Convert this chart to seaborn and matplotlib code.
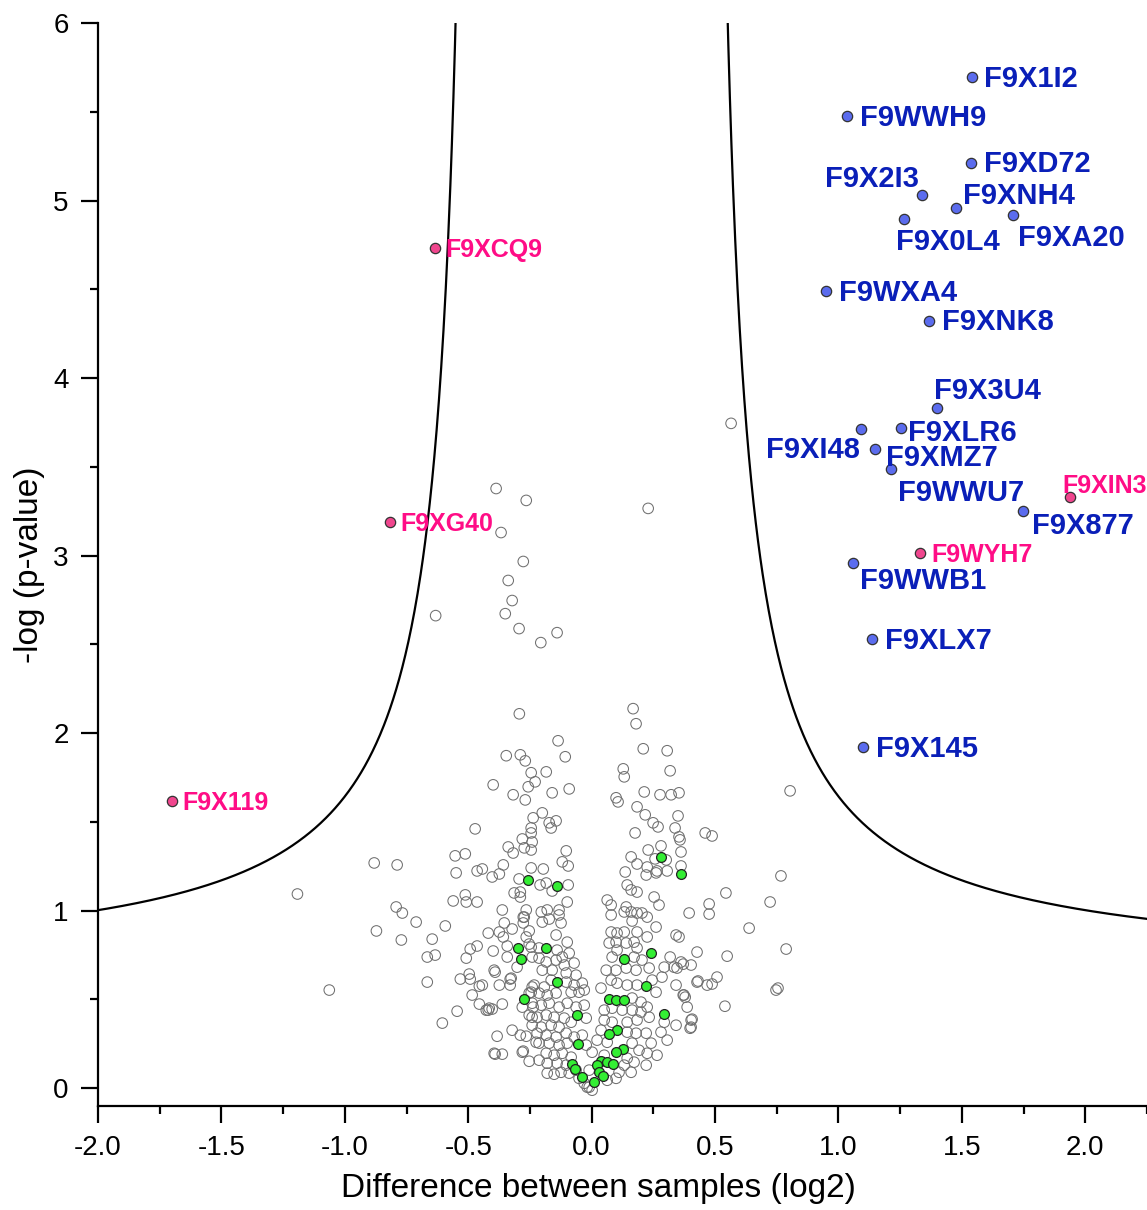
"""
Volcano plot - difference between samples vs -log(p-value)
"""
import numpy as np
import pandas as pd
import matplotlib
matplotlib.use('Agg')
import matplotlib.pyplot as plt
import seaborn as sns

sns.set_style('ticks')
plt.rcParams['font.family'] = ['Liberation Sans', 'DejaVu Sans']
plt.rcParams['axes.unicode_minus'] = False
for k in ['text.color', 'axes.labelcolor', 'xtick.color', 'ytick.color', 'axes.edgecolor']:
    plt.rcParams[k] = 'black'

# ---- significant proteins (right side, blue) ----
up_names = ['F9X1I2', 'F9WWH9', 'F9XD72', 'F9X2I3', 'F9XNH4', 'F9X0L4', 'F9XA20',
            'F9WXA4', 'F9XNK8', 'F9X3U4', 'F9XLR6', 'F9XI48', 'F9XMZ7', 'F9WWU7',
            'F9X877', 'F9WWB1', 'F9XLX7', 'F9X145']
up_x = [1.539, 1.036, 1.535, 1.338, 1.477, 1.265, 1.708, 0.949, 1.368, 1.398,
        1.252, 1.091, 1.149, 1.214, 1.747, 1.060, 1.137, 1.099]
up_y = [5.695, 5.478, 5.211, 5.033, 4.956, 4.896, 4.918, 4.488, 4.322, 3.834,
        3.719, 3.711, 3.598, 3.486, 3.253, 2.959, 2.531, 1.923]

# ---- highlighted proteins (pink) ----
pink_names = ['F9XCQ9', 'F9XG40', 'F9X119', 'F9XIN3', 'F9WYH7']
pink_x = [-0.634, -0.816, -1.702, 1.940, 1.330]
pink_y = [4.732, 3.187, 1.619, 3.332, 3.017]

# ---- green group ----
green_x = [0.281, 0.362, -0.257, -0.140, -0.298, -0.184, -0.285, 0.132, 0.241,
           -0.140, 0.221, -0.273, 0.071, 0.099, 0.132, 0.294, -0.059, 0.103,
           0.071, -0.055, 0.128, 0.099, -0.079, -0.067, 0.038, 0.063, 0.087,
           0.022, 0.030, 0.047, -0.038, 0.010]
green_y = [1.303, 1.207, 1.173, 1.139, 0.790, 0.790, 0.728, 0.728, 0.761,
           0.598, 0.575, 0.502, 0.502, 0.496, 0.496, 0.417, 0.412, 0.327,
           0.305, 0.248, 0.220, 0.203, 0.135, 0.107, 0.152, 0.147, 0.135,
           0.130, 0.090, 0.068, 0.062, 0.034]

# ---- all other proteins (grey), read region by region ----
gray_top = [(0.565, 3.745), (-0.387, 3.378), (-0.265, 3.311), (0.229, 3.266),
            (-0.367, 3.130), (-0.277, 2.967), (-0.338, 2.860), (-0.322, 2.747),
            (-0.350, 2.673), (-0.632, 2.662), (-0.294, 2.589), (-0.140, 2.566),
            (-0.206, 2.510)]
gray_mid_left = [(-0.293, 2.109), (-0.346, 1.873), (-0.289, 1.878), (-0.269, 1.844),
                 (-0.245, 1.777), (-0.229, 1.726), (-0.257, 1.698), (-0.399, 1.709),
                 (-0.318, 1.653), (-0.269, 1.624), (-0.237, 1.523), (-0.245, 1.466),
                 (-0.245, 1.438), (-0.281, 1.404), (-0.241, 1.387), (-0.472, 1.461),
                 (-0.338, 1.359), (-0.318, 1.325), (-0.273, 1.354), (-0.245, 1.342),
                 (-0.553, 1.309), (-0.512, 1.320), (-0.881, 1.269), (-0.788, 1.258),
                 (-0.358, 1.258), (-0.245, 1.241), (-0.549, 1.213), (-0.464, 1.224),
                 (-0.443, 1.235), (-0.374, 1.207), (-0.403, 1.190), (-0.294, 1.179)]
gray_mid_center = [(0.168, 2.138), (0.180, 2.053), (-0.136, 1.957), (-0.107, 1.867),
                   (0.209, 1.912), (0.306, 1.901), (-0.184, 1.782), (0.128, 1.799),
                   (0.132, 1.754), (0.318, 1.788), (-0.160, 1.664), (-0.091, 1.686),
                   (0.099, 1.636), (0.107, 1.613), (0.213, 1.669), (0.277, 1.653),
                   (0.322, 1.653), (0.354, 1.664), (0.804, 1.675), (-0.200, 1.551),
                   (0.184, 1.585), (0.217, 1.540), (0.350, 1.534), (-0.172, 1.495),
                   (-0.144, 1.506), (-0.164, 1.466), (0.249, 1.495), (0.269, 1.472),
                   (0.338, 1.466), (0.354, 1.416), (0.358, 1.399), (0.176, 1.438),
                   (0.460, 1.438), (0.488, 1.421), (0.281, 1.365), (-0.103, 1.337),
                   (0.229, 1.342), (0.362, 1.331), (0.160, 1.303), (-0.119, 1.275),
                   (-0.095, 1.252), (0.184, 1.263), (0.257, 1.292), (0.302, 1.286),
                   (0.362, 1.252), (-0.196, 1.235), (0.225, 1.246), (0.265, 1.224),
                   (0.306, 1.224), (0.136, 1.218), (0.221, 1.201), (0.767, 1.196)]
gray_low_left = [(-1.192, 1.094), (-0.561, 1.055), (-0.512, 1.089), (-0.508, 1.049),
                 (-0.464, 1.049), (-0.792, 1.021), (-0.767, 0.987), (-0.711, 0.936),
                 (-0.593, 0.914), (-0.872, 0.886), (-0.771, 0.835), (-0.646, 0.840),
                 (-0.666, 0.739), (-0.634, 0.750), (-0.508, 0.733), (-0.492, 0.784),
                 (-0.464, 0.801), (-0.419, 0.874), (-0.362, 1.004), (-0.314, 1.100),
                 (-0.289, 1.105), (-0.289, 1.077), (-0.354, 0.931), (-0.322, 0.897),
                 (-0.374, 0.880), (-0.358, 0.852), (-0.342, 0.801), (-0.399, 0.773),
                 (-0.342, 0.739), (-0.302, 0.682), (-0.391, 0.654), (-0.666, 0.598),
                 (-0.532, 0.615), (-0.496, 0.643), (-0.492, 0.615), (-0.455, 0.575),
                 (-0.374, 0.581), (-0.330, 0.581), (-0.330, 0.615), (-1.063, 0.553),
                 (-0.484, 0.525), (-0.455, 0.474), (-0.419, 0.440), (-0.403, 0.446),
                 (-0.362, 0.474), (-0.545, 0.434), (-0.605, 0.367), (-0.322, 0.327),
                 (-0.383, 0.293), (-0.289, 0.299), (-0.265, 0.293), (-0.391, 0.192),
                 (-0.362, 0.192), (-0.277, 0.209), (-0.253, 0.152), (-0.265, 1.004),
                 (-0.277, 0.964), (-0.277, 0.931), (-0.253, 0.886), (-0.265, 0.852),
                 (-0.245, 0.795), (-0.241, 0.739), (-0.241, 0.570), (-0.253, 0.536),
                 (-0.237, 0.457), (-0.241, 0.400), (-0.241, 0.355), (-0.225, 0.259)]
gray_core_left = [(-0.209, 1.145), (-0.184, 1.156), (-0.095, 1.145), (-0.160, 1.111),
                  (-0.099, 1.049), (-0.204, 0.993), (-0.180, 1.004), (-0.132, 1.004),
                  (-0.132, 0.976), (-0.273, 0.964), (-0.200, 0.936), (-0.172, 0.953),
                  (-0.124, 0.931), (-0.144, 0.863), (-0.099, 0.823), (-0.253, 0.812),
                  (-0.213, 0.790), (-0.140, 0.778), (-0.119, 0.739), (-0.091, 0.761),
                  (-0.213, 0.733), (-0.184, 0.711), (-0.144, 0.722), (-0.111, 0.694),
                  (-0.071, 0.705), (-0.395, 0.665), (-0.200, 0.665), (-0.160, 0.665),
                  (-0.103, 0.649), (-0.063, 0.637), (-0.326, 0.620), (-0.233, 0.581),
                  (-0.192, 0.570), (-0.164, 0.609), (-0.103, 0.598), (-0.071, 0.581),
                  (-0.038, 0.592), (-0.245, 0.541), (-0.213, 0.536), (-0.180, 0.525),
                  (-0.144, 0.536), (-0.083, 0.541), (-0.051, 0.541), (-0.030, 0.553),
                  (-0.443, 0.581), (-0.415, 0.451), (-0.427, 0.440), (-0.281, 0.457),
                  (-0.241, 0.479), (-0.204, 0.468), (-0.172, 0.479), (-0.132, 0.457),
                  (-0.099, 0.479), (-0.063, 0.457), (-0.030, 0.468), (-0.253, 0.412),
                  (-0.221, 0.400), (-0.184, 0.412), (-0.152, 0.400), (-0.111, 0.395),
                  (-0.083, 0.372), (-0.022, 0.395), (-0.204, 0.344), (-0.164, 0.355),
                  (-0.132, 0.344), (-0.221, 0.310), (-0.184, 0.299), (-0.144, 0.288),
                  (-0.103, 0.310), (-0.071, 0.288), (-0.038, 0.299), (-0.213, 0.254),
                  (-0.172, 0.254), (-0.132, 0.243), (-0.099, 0.254), (-0.022, 0.243),
                  (-0.281, 0.203), (-0.395, 0.197), (-0.184, 0.197), (-0.152, 0.186),
                  (-0.119, 0.197), (-0.083, 0.175), (-0.213, 0.158), (-0.180, 0.141),
                  (-0.140, 0.141), (-0.103, 0.130), (-0.180, 0.085), (-0.152, 0.079),
                  (-0.124, 0.090), (-0.091, 0.085), (-0.063, 0.102), (-0.051, 0.056),
                  (-0.030, 0.028), (-0.010, 0.006)]
gray_core_right = [(0.261, 1.213), (0.144, 1.145), (0.160, 1.117), (0.184, 1.105),
                   (0.253, 1.077), (0.273, 1.032), (0.063, 1.060), (0.079, 1.032),
                   (0.079, 0.976), (0.140, 1.021), (0.132, 0.993), (0.160, 0.993),
                   (0.184, 0.987), (0.204, 0.987), (0.164, 0.942), (0.225, 0.964),
                   (0.261, 0.908), (0.395, 0.987), (0.079, 0.880), (0.103, 0.874),
                   (0.132, 0.880), (0.184, 0.880), (0.225, 0.852), (0.071, 0.818),
                   (0.099, 0.823), (0.140, 0.818), (0.172, 0.823), (0.184, 0.790),
                   (0.103, 0.778), (0.083, 0.739), (0.172, 0.739), (0.204, 0.722),
                   (0.342, 0.863), (0.354, 0.852), (0.427, 0.767), (0.318, 0.739),
                   (0.362, 0.711), (0.403, 0.694), (0.334, 0.682), (0.294, 0.682),
                   (0.233, 0.677), (0.059, 0.665), (0.099, 0.665), (0.140, 0.677),
                   (0.180, 0.665), (0.285, 0.626), (0.245, 0.609), (0.342, 0.581),
                   (0.427, 0.598), (0.038, 0.564), (0.079, 0.609), (0.103, 0.592),
                   (0.144, 0.581), (0.184, 0.581), (0.261, 0.541), (0.374, 0.525),
                   (0.387, 0.457), (0.164, 0.508), (0.200, 0.485), (0.225, 0.457),
                   (0.051, 0.440), (0.083, 0.451), (0.124, 0.440), (0.164, 0.440),
                   (0.200, 0.429), (0.233, 0.400), (0.403, 0.384), (0.342, 0.355),
                   (0.294, 0.372), (0.281, 0.316), (0.306, 0.271), (0.403, 0.344),
                   (0.051, 0.384), (0.083, 0.372), (0.144, 0.372), (0.184, 0.384),
                   (0.038, 0.327), (0.144, 0.316), (0.180, 0.310), (0.221, 0.310),
                   (0.022, 0.271), (0.063, 0.259), (0.164, 0.254), (0.241, 0.254),
                   (0.192, 0.214), (0.225, 0.197), (0.265, 0.186), (0.002, 0.203),
                   (0.051, 0.186), (0.144, 0.169), (0.172, 0.147), (0.221, 0.130),
                   (0.132, 0.130), (0.111, 0.090), (0.160, 0.090), (0.099, 0.056),
                   (0.063, 0.045), (-0.010, 0.102), (-0.018, 0.006), (0.002, -0.011)]
gray_right = [(0.544, 1.100), (0.723, 1.049), (0.476, 1.038), (0.476, 0.981),
              (0.638, 0.902), (0.788, 0.784), (0.549, 0.744), (0.371, 0.699),
              (0.346, 0.677), (0.508, 0.626), (0.468, 0.581), (0.488, 0.587),
              (0.431, 0.604), (0.755, 0.564), (0.747, 0.553), (0.540, 0.462),
              (0.371, 0.525), (0.379, 0.513), (0.407, 0.389), (0.399, 0.338)]

# significance curve parameters (y = A + C / (|x| - X0))
CURVE_A, CURVE_C, CURVE_X0 = 0.65, 0.5475, 0.449

# label placement (pixel offsets from point: dx, dy up, ha)
label_pos = {
    'F9X1I2': (12, 0, 'left'), 'F9WWH9': (13, 0, 'left'), 'F9XD72': (13, 1, 'left'),
    'F9X2I3': (-3, 18, 'right'), 'F9XNH4': (7, 14, 'left'), 'F9X0L4': (-8, -21, 'left'),
    'F9XA20': (5, -21, 'left'), 'F9WXA4': (13, 0, 'left'), 'F9XNK8': (13, 1, 'left'),
    'F9X3U4': (-3, 19, 'left'), 'F9XLR6': (7, -3, 'left'), 'F9XI48': (-1, -19, 'right'),
    'F9XMZ7': (11, -7, 'left'), 'F9WWU7': (7, -22, 'left'), 'F9X877': (9, -13, 'left'),
    'F9WWB1': (7, -16, 'left'), 'F9XLX7': (13, 0, 'left'), 'F9X145': (13, 0, 'left'),
    'F9XCQ9': (10, 0, 'left'), 'F9XG40': (10, 0, 'left'), 'F9X119': (11, 0, 'left'),
    'F9XIN3': (-8, 13, 'left'), 'F9WYH7': (11, 0, 'left'),
}

BLUE_DOT, BLUE_TXT = '#5b6cee', '#0a1fb8'
PINK_DOT, PINK_TXT = '#f0468e', '#ff0d86'
GREEN_DOT = '#33ee33'
PX = 0.72  # points per pixel at dpi 100


def main():
    gray = pd.DataFrame(gray_top + gray_mid_left + gray_mid_center + gray_low_left
                        + gray_core_left + gray_core_right + gray_right,
                        columns=['diff', 'logp'])

    fig = plt.figure(figsize=(11.47, 12.10), dpi=100)
    ax = fig.add_axes([98 / 1147, 104 / 1210, 1 - 98 / 1147, 1083 / 1210])

    sns.scatterplot(data=gray, x='diff', y='logp', ax=ax, s=58, marker='o',
                    facecolor='none', edgecolor='#707070', linewidth=0.75, zorder=2)
    sns.scatterplot(x=green_x, y=green_y, ax=ax, s=50, color=GREEN_DOT,
                    edgecolor='#222222', linewidth=0.9, zorder=3)
    sns.scatterplot(x=up_x, y=up_y, ax=ax, s=55, color=BLUE_DOT,
                    edgecolor='#333333', linewidth=0.9, zorder=4)
    sns.scatterplot(x=pink_x, y=pink_y, ax=ax, s=55, color=PINK_DOT,
                    edgecolor='#333333', linewidth=0.9, zorder=4)

    # threshold curve
    xs = np.linspace(CURVE_X0 + CURVE_C / (6.2 - CURVE_A), 2.4, 600)
    ys = CURVE_A + CURVE_C / (xs - CURVE_X0)
    ax.plot(xs, ys, color='black', lw=1.6, zorder=3)
    ax.plot(-xs, ys, color='black', lw=1.6, zorder=3)

    for names, xv, yv, col, fs in [(up_names, up_x, up_y, BLUE_TXT, 21),
                                   (pink_names, pink_x, pink_y, PINK_TXT, 18)]:
        for n, x, y in zip(names, xv, yv):
            dx, dy, ha = label_pos[n]
            ax.annotate(n, (x, y), xytext=(dx * PX, (dy - 2) * PX),
                        textcoords='offset points', ha=ha, va='center',
                        fontsize=fs, fontweight='bold', color=col, zorder=5,
                        annotation_clip=False)

    ax.set_xlim(-2.0, 2.245)
    ax.set_ylim(-0.1, 6.0)
    ax.set_xticks(np.arange(-2.0, 2.01, 0.5))
    ax.set_xticklabels([f'{v:.1f}' for v in np.arange(-2.0, 2.01, 0.5)])
    ax.set_xticks(np.arange(-1.75, 2.3, 0.5), minor=True)
    ax.set_yticks(range(0, 7))
    ax.set_yticks(np.arange(0.5, 6, 1.0), minor=True)

    sns.despine(ax=ax)
    for s in ['left', 'bottom']:
        ax.spines[s].set_linewidth(1.6)
    ax.tick_params(which='major', length=12, width=1.6, labelsize=20, pad=9)
    ax.tick_params(which='minor', length=6, width=1.6)

    ax.set_xlabel('Difference between samples (log2)', fontsize=24, labelpad=8)
    ax.xaxis.set_label_coords((598 - 98) / (1147 - 98), -0.062)
    ax.set_ylabel('-log (p-value)', fontsize=24, labelpad=6)

    fig.savefig('out.png', dpi=100)
    plt.close(fig)


if __name__ == '__main__':
    main()
